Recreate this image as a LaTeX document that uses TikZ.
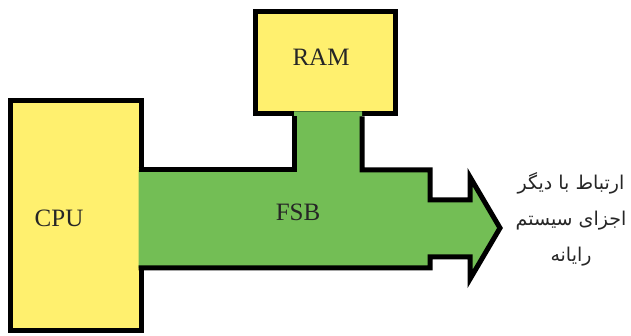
\documentclass[tikz,border=0pt]{standalone}
\usepackage{fontspec}
\setmainfont{Liberation Serif}
\newfontfamily\persianfont[Script=Arabic]{DejaVu Sans}
\TeXXeTstate=1
\usetikzlibrary{positioning}
\definecolor{chipyellow}{RGB}{255,240,110}
\definecolor{busgreen}{RGB}{115,190,85}

\begin{document}
\begin{tikzpicture}[
    x=1pt, y=-1pt,
    chip/.style={
        draw=black,
        fill=chipyellow,
        line width=5pt
    },
    busline/.style={
        draw=black,
        line width=5pt
    },
    chiptext/.style={
        font=\fontsize{25}{30}\selectfont,
        text=black!85
    },
    note/.style={
        font=\persianfont\fontsize{19}{36}\selectfont,
        align=center,
        text=black!85
    }
]
\useasboundingbox (0,0) rectangle (631,336);

% boxes
\draw[chip] (10.5,101) rectangle (141,330);
\draw[chip] (255,12) rectangle (395,114);

% front side bus
\fill[busgreen] (138.5,170) -- (294,170) -- (294,111.5) -- (362,111.5)
    -- (362,170) -- (430,170) -- (430,200) -- (470,200) -- (470,177)
    -- (500,228) -- (470,279) -- (470,257) -- (430,257) -- (430,268)
    -- (138.5,268) -- cycle;
\draw[busline] (138.5,170) -- (294,170) -- (294,116.5);
\draw[busline] (362,116.5) -- (362,170) -- (430,170) -- (430,200)
    -- (470,200) -- (470,177) -- (500,228) -- (470,279) -- (470,257)
    -- (430,257) -- (430,268) -- (138.5,268);

% labels
\node[chiptext] (cpu) at (59,218) {CPU};
\node[chiptext] (ram) at (321,57) {RAM};
\node[chiptext] (fsb) at (298,212) {FSB};
\node[note] (other) at (571,219) {\beginR ارتباط با دیگر\endR\\
    \beginR اجزای سیستم\endR\\
    \beginR رایانه\endR};

\end{tikzpicture}
\end{document}
